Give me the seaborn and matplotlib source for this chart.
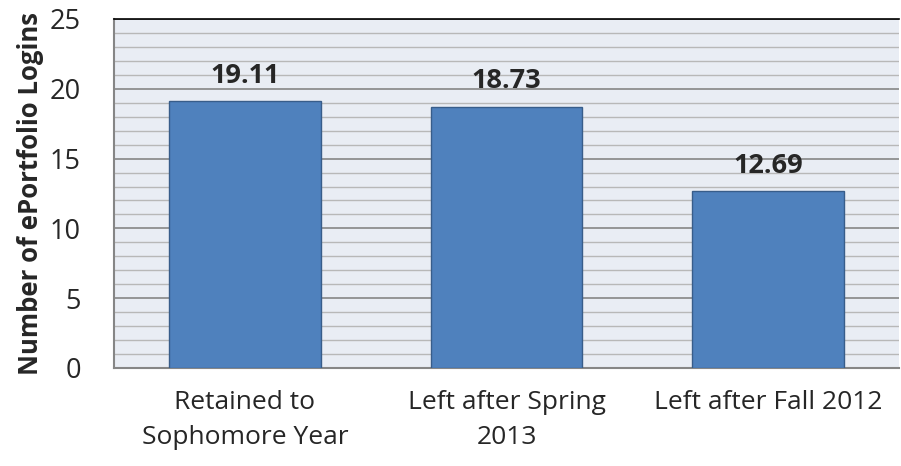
import matplotlib
matplotlib.use("Agg")
import matplotlib.pyplot as plt
import seaborn as sns
import pandas as pd
from matplotlib.ticker import MultipleLocator

categories = ["Retained to\nSophomore Year", "Left after Spring\n2013", "Left after Fall 2012"]
values = [19.11, 18.73, 12.69]
value_labels = ["19.11", "18.73", "12.69"]
y_ticks = [0, 5, 10, 15, 20, 25]

df = pd.DataFrame({"cat": categories, "val": values})

sns.set_theme(style="white")
plt.rcParams['font.family'] = ['Open Sans', 'DejaVu Sans']

fig = plt.figure(figsize=(9.01, 4.66), dpi=100)
ax = fig.add_axes([114/901, 1-368/466, (899-114)/901, (368-19)/466])
ax.set_facecolor("#E9EDF4")

sns.barplot(data=df, x="cat", y="val", ax=ax, color="#4F81BD", width=0.58,
            edgecolor="#385D8A", linewidth=1.0, saturation=1, zorder=3)

ax.set_ylim(0, 25)
ax.set_yticks(y_ticks)
ax.yaxis.set_minor_locator(MultipleLocator(1))
ax.grid(which="major", axis="y", color="#868686", linewidth=1.2, zorder=0)
ax.grid(which="minor", axis="y", color="#B8B8B8", linewidth=1.0, zorder=0)
ax.set_axisbelow(True)

ax.spines["right"].set_visible(False)
ax.spines["top"].set_color("#000000")
ax.spines["top"].set_linewidth(1.2)
ax.spines["left"].set_color("#868686")
ax.spines["left"].set_linewidth(1.5)
ax.spines["bottom"].set_color("#868686")
ax.spines["bottom"].set_linewidth(1.5)

ax.tick_params(axis="y", which="both", length=0, labelsize=19.5, pad=24)
ax.tick_params(axis="x", length=0, labelsize=19, pad=16)
for lbl in ax.get_xticklabels():
    lbl.set_linespacing(1.5)

for i, (v, t) in enumerate(zip(values, value_labels)):
    ax.text(i, v + 1.3, t, ha="center", va="baseline", fontsize=19.5, fontweight="bold", zorder=4)

ax.set_xlabel("")
ax.set_ylabel("Number of ePortfolio Logins", fontsize=18.5, fontweight="bold", labelpad=4)

fig.savefig("out.png", dpi=100)
